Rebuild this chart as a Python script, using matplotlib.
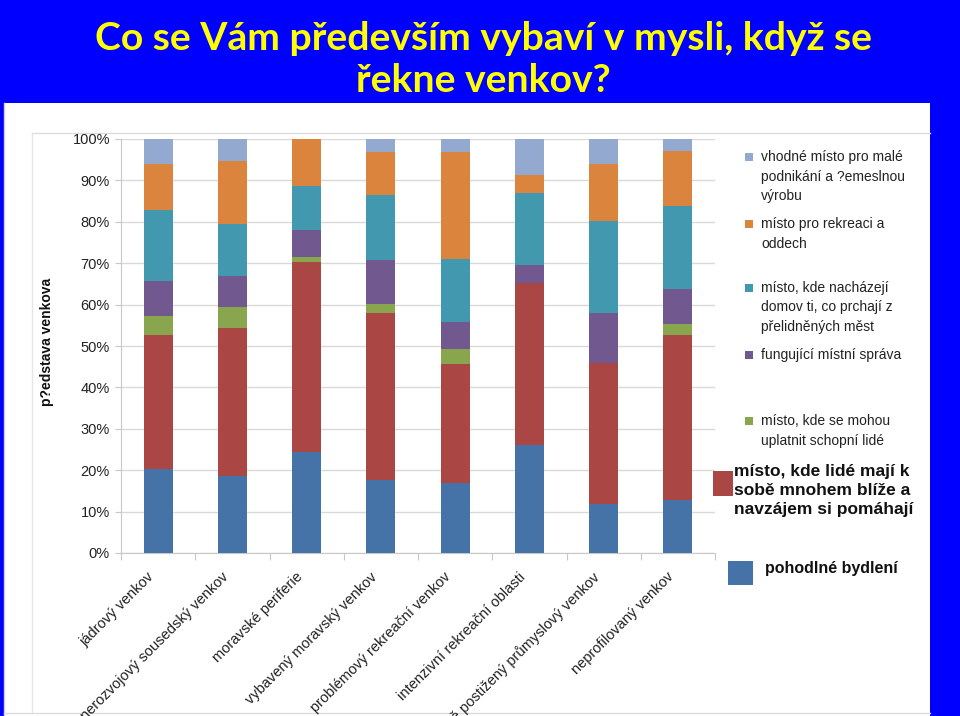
import numpy as np
import matplotlib
matplotlib.use("Agg")
import matplotlib.pyplot as plt
from matplotlib.patches import Rectangle
from matplotlib.lines import Line2D

categories = ["jádrový venkov", "nerozvojový sousedský venkov", "moravské periferie",
              "vybavený moravský venkov", "problémový rekreační venkov",
              "intenzivní rekreační oblasti", "strukturálně postižený průmyslový venkov",
              "neprofilovaný venkov"]

series_names = ["pohodlné bydlení",
                "místo, kde lidé mají k\nsobě mnohem blíže a\nnavzájem si pomáhají",
                "místo, kde se mohou\nuplatnit schopní lidé",
                "fungující místní správa",
                "místo, kde nacházejí\ndomov ti, co prchají z\npřelidněných měst",
                "místo pro rekreaci a\noddech",
                "vhodné místo pro malé\npodnikání a ?emeslnou\nvýrobu"]

pohodlne = [20.2, 18.7, 24.4, 17.6, 16.8, 26.0, 11.9, 12.7]
blize = [32.5, 35.7, 45.8, 40.3, 28.8, 39.2, 34.1, 40.0]
schopni = [4.6, 5.0, 1.3, 2.3, 3.6, 0.0, 0.0, 2.6]
sprava = [8.4, 7.6, 6.6, 10.6, 6.7, 4.4, 11.9, 8.4]
domov = [17.1, 12.5, 10.6, 15.7, 15.1, 17.3, 22.3, 20.2]
rekreace = [11.2, 15.3, 11.3, 10.4, 25.9, 4.5, 13.8, 13.3]
podnikani = [6.0, 5.2, 0.0, 3.1, 3.1, 8.6, 6.0, 2.8]

values = [pohodlne, blize, schopni, sprava, domov, rekreace, podnikani]
colors = ["#4572A7", "#AA4643", "#89A54E", "#71588F", "#4198AF", "#DB843D", "#93A9CF"]

W, H = 960, 716
fig = plt.figure(figsize=(9.6, 7.16), dpi=100, facecolor="#0000FF")


def fx(x):
    return x / W


def fy(y):
    return 1 - y / H


# white slide area and chart border
fig.patches.append(Rectangle((fx(4), 0), fx(930) - fx(4), fy(102.5), transform=fig.transFigure,
                             facecolor="white", edgecolor="none", zorder=-5))
fig.add_artist(Line2D([fx(4), fx(4)], [0, fy(103)], color="#d0d0d0", lw=1, zorder=-4))
fig.add_artist(Line2D([fx(32), fx(930)], [fy(133), fy(133)], color="#dcdcdc", lw=1, zorder=-4))
fig.add_artist(Line2D([fx(32), fx(32)], [fy(133), fy(713)], color="#e6e6e6", lw=1, zorder=-4))
fig.add_artist(Line2D([fx(4), fx(930)], [fy(713), fy(713)], color="#dcdcdc", lw=1, zorder=-4))

# title - fit the first line to the width it has in the slide
t1 = fig.text(fx(483), fy(39), "Co se Vám především vybaví v mysli, když se", color="#FFFF00",
              fontsize=30, family="Lato", fontweight="bold", ha="center", va="center")
renderer = fig.canvas.get_renderer()
size = 30 * 777 / t1.get_window_extent(renderer).width
t1.set_fontsize(size)
fig.text(fx(483), fy(80), "řekne venkov?", color="#FFFF00",
         fontsize=size, family="Lato", fontweight="bold", ha="center", va="center")

ax = fig.add_axes([fx(121), fy(553), fx(715) - fx(121), fy(139) - fy(553)])
ax.set_facecolor("none")
x = np.arange(len(categories))
bottom = np.zeros(len(categories))
for vals, col in zip(values, colors):
    ax.bar(x, vals, bottom=bottom, width=0.39, color=col, zorder=3)
    bottom += np.array(vals)

ax.set_xlim(-0.5, len(categories) - 0.5)
ax.set_ylim(0, 100)
ax.set_yticks(np.arange(0, 101, 10))
ax.set_yticklabels([f"{v}%" for v in range(0, 101, 10)], fontsize=10.5,
                   family="Liberation Sans", color="#222222")
ax.yaxis.grid(True, color="#d9d9d9", lw=1, zorder=0)
ax.tick_params(axis="y", length=4, color="#c8c8c8", pad=4)
ax.set_xticks(np.arange(-0.5, len(categories), 1.0))
ax.set_xticklabels([])
ax.tick_params(axis="x", length=5, color="#c8c8c8", direction="out")
for s in ["top", "right"]:
    ax.spines[s].set_visible(False)
ax.spines["left"].set_color("#c8c8c8")
ax.spines["bottom"].set_color("#c8c8c8")

for i, name in enumerate(categories):
    ax.annotate(name, xy=(i, 0), xycoords=("data", "axes fraction"),
                xytext=(-8, -12), textcoords="offset points",
                rotation=45, ha="right", va="top", rotation_mode="anchor",
                fontsize=10.5, family="Liberation Sans", color="#222222")

fig.text(fx(47), fy(342), "p?edstava venkova", rotation=90, ha="center", va="center",
         fontsize=10, fontweight="bold", family="Liberation Sans", color="#111111")

# legend, drawn by hand
small = [(6, 157), (5, 224), (4, 288), (3, 355), (2, 421)]
for idx, y0 in small:
    fig.patches.append(Rectangle((fx(745), fy(y0 + 4)), fx(8), 8 / H, transform=fig.transFigure,
                                 facecolor=colors[idx], edgecolor="none"))
    fig.text(fx(761), fy(y0 - 7), series_names[idx], ha="left", va="top", fontsize=10,
             family="Liberation Sans", color="#222222", linespacing=1.5)

fig.patches.append(Rectangle((fx(713), fy(496)), fx(20), 25 / H, transform=fig.transFigure,
                             facecolor=colors[1], edgecolor="none"))
fig.text(fx(734), fy(464), series_names[1], ha="left", va="top", fontsize=12.5,
         fontweight="bold", family="Liberation Sans", color="#111111", linespacing=1.33)

fig.patches.append(Rectangle((fx(728), fy(585)), fx(25), 24 / H, transform=fig.transFigure,
                             facecolor=colors[0], edgecolor="none"))
fig.text(fx(765), fy(568), series_names[0], ha="left", va="center", fontsize=11.5,
         fontweight="bold", family="Liberation Sans", color="#111111")

fig.savefig("out.png", dpi=100, facecolor=fig.get_facecolor())
